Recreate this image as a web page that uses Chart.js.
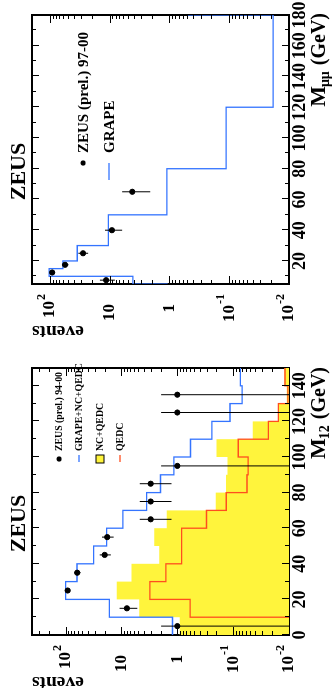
<!DOCTYPE html>
<html>
<head>
<meta charset="utf-8">
<script src="https://cdn.jsdelivr.net/npm/chart.js@4.4.1/dist/chart.umd.min.js"></script>
<style>
  html, body { margin: 0; padding: 0; background: #fff; overflow: hidden; }
  /* the figure is drawn upright, then turned a quarter turn like the original scan */
  #page { position: absolute; left: 0; top: 0; width: 697px; height: 332px; display: flex;
          transform-origin: 0 0; transform: translate(0, 697px) rotate(-90deg); background: #fff; }
  canvas { display: block; }
</style>
</head>
<body>
<div id="page">
  <canvas id="left" width="348" height="332"></canvas>
  <canvas id="right" width="349" height="332"></canvas>
</div>
<script>
// ---- left panel : M_12, ZEUS 94-00 ----
const m12Edges   = [0, 10, 20, 30, 40, 50, 60, 70, 80, 90, 100, 110, 120, 130, 140, 150];
const m12Total   = [1.22, 16.5, 100, 62.5, 31.5, 18.4, 9.4, 3.55, 2.0, 1.15, 0.58, 0.24, 0.114, 0.069, 0.074];
const m12NcQedc  = [0.9, 4.8, 12.2, 6.6, 2.1, 2.6, 1.55, 0.205, 0.134, 0.126, 0.199, 0.0447, 0.0157, 0.011, 0.012];
const m12Qedc    = [0.001, 0.59, 3.1, 1.6, 0.84, 0.84, 0.30, 0.133, 0.0565, 0.054, 0.081, 0.0235, 0.0155, 0.0105, 0.0118];
const m12DataM   = [5, 15, 25, 35, 45, 55, 65, 75, 85, 95, 125, 135];
const m12DataN   = [1, 8, 92, 62, 20, 18, 3, 3, 3, 1, 1, 1];
const m12DataHi  = [1.95, 10.8, 101, 70, 24.5, 22.3, 4.7, 4.7, 4.7, 1.95, 1.95, 1.95];
const m12DataLo  = [0, 5.2, 83, 54, 15.5, 13.8, 1.27, 1.27, 1.27, 0, 0, 0];

// ---- right panel : M_mumu, ZEUS 97-00 ----
const mmEdges    = [0, 5, 10, 15, 20, 30, 50, 80, 120, 180, 200];
const mmGrape    = [1.1, 4.1, 103, 61, 35, 10.5, 1.11, 0.113, 0.0185, 0.5];
const mmDataM    = [7.5, 12.5, 17.5, 25, 40, 65];
const mmDataN    = [11.5, 92, 56, 28, 9.2, 4.2];
const mmDataHi   = [14.6, 101, 63, 33.5, 12, 6.2];
const mmDataLo   = [8.2, 83, 49, 23, 6.2, 2.1];

const SERIF = '"Liberation Serif", "Times New Roman", Times, serif';
const BLUE = '#3474ff';
const RED = '#ff4e1e';
const YELLOW = '#fff43c';

function font(px) { return 'bold ' + px + 'px ' + SERIF; }

// histogram as stepped line : one point per left edge + closing point
function stepData(edges, vals) {
  const pts = vals.map((v, i) => ({ x: edges[i], y: v }));
  pts.push({ x: edges[edges.length - 1], y: vals[vals.length - 1] });
  return pts;
}
function points(xs, ys) { return xs.map((x, i) => ({ x: x, y: ys[i] })); }

// frame, inside ticks, error bars and all the ROOT style text
const zeusPlugin = {
  id: 'zeus',
  beforeDatasetsDraw(chart) {
    const { ctx, chartArea: a } = chart;
    ctx.save();
    ctx.strokeStyle = '#000';
    ctx.lineWidth = 2;
    ctx.strokeRect(a.left, a.top, a.right - a.left, a.bottom - a.top);
    ctx.restore();
  },
  afterDatasetsDraw(chart, args, o) {
    const { ctx, chartArea: a } = chart;
    const x = chart.scales.x, y = chart.scales.y;
    ctx.save();
    ctx.strokeStyle = '#000';
    ctx.lineWidth = 1;
    ctx.beginPath();
    for (let m = Math.ceil(x.min / 10) * 10; m <= x.max; m += 10) {
      const px = Math.round(x.getPixelForValue(m)) + 0.5;
      const len = m % 20 === 0 ? 7 : 4;
      ctx.moveTo(px, a.bottom); ctx.lineTo(px, a.bottom - len);
      ctx.moveTo(px, a.top); ctx.lineTo(px, a.top + len);
    }
    for (let d = -2; d <= 2; d++) {
      for (let k = 1; k <= 9; k++) {
        const v = k * Math.pow(10, d);
        if (v < y.min * 0.999 || v > y.max * 1.001) continue;
        const py = Math.round(y.getPixelForValue(v)) + 0.5;
        const len = k === 1 ? 8 : 4;
        ctx.moveTo(a.left, py); ctx.lineTo(a.left + len, py);
        ctx.moveTo(a.right, py); ctx.lineTo(a.right - len, py);
      }
    }
    ctx.stroke();

    // error bars
    ctx.beginPath();
    ctx.rect(a.left, a.top, a.right - a.left, a.bottom - a.top);
    ctx.clip();
    ctx.beginPath();
    o.errX.forEach((m, i) => {
      const px = x.getPixelForValue(m);
      ctx.moveTo(px, y.getPixelForValue(o.errHi[i]));
      ctx.lineTo(px, o.errLo[i] > 0 ? y.getPixelForValue(o.errLo[i]) : a.bottom);
    });
    ctx.stroke();
    ctx.restore();
  },
  afterDraw(chart, args, o) {
    const { ctx, chartArea: a } = chart;
    const x = chart.scales.x, y = chart.scales.y;
    ctx.save();
    ctx.fillStyle = '#000';

    // M tick labels
    ctx.font = font(18);
    ctx.textAlign = 'center';
    ctx.textBaseline = 'top';
    for (let m = o.labelStart; m <= x.max; m += 20) {
      ctx.fillText(String(m), x.getPixelForValue(m), a.bottom + 2);
    }

    // events tick labels, 10 with exponent
    for (let d = -2; d <= 2; d++) {
      const v = Math.pow(10, d);
      if (v < y.min * 0.999 || v > y.max * 1.001) continue;
      const py = y.getPixelForValue(v);
      ctx.textBaseline = 'middle';
      if (d === 0 || d === 1) {
        ctx.font = font(17);
        ctx.textAlign = 'right';
        ctx.fillText(d === 0 ? '1' : '10', a.left - 20, py);
      } else {
        const exp = String(d);
        ctx.font = font(12);
        const we = ctx.measureText(exp).width;
        const right = a.left - 10;
        ctx.textAlign = 'left';
        ctx.textBaseline = 'alphabetic';
        ctx.fillText(exp, right - we, py - 5);
        ctx.font = font(17);
        ctx.textAlign = 'right';
        ctx.textBaseline = 'middle';
        ctx.fillText('10', right - we - 1, py);
      }
    }

    // ZEUS
    ctx.font = font(22);
    ctx.textAlign = 'center';
    ctx.textBaseline = 'alphabetic';
    ctx.fillText('ZEUS', o.titleX, 25);

    // axis title  M_sub (GeV)
    ctx.textAlign = 'left';
    ctx.font = font(20);
    const wGev = ctx.measureText('(GeV)').width;
    ctx.font = font(14);
    const wSub = ctx.measureText(o.sub).width;
    ctx.font = font(22);
    const wM = ctx.measureText('M').width;
    const gevX = o.titleRight - wGev;
    const subX = gevX - 6 - wSub;
    ctx.fillText('M', subX - wM + 1, 325);
    ctx.font = font(14);
    ctx.fillText(o.sub, subX, 329);
    ctx.font = font(20);
    ctx.fillText('(GeV)', gevX, 325);

    // events
    ctx.save();
    ctx.translate(o.eventsX, a.top);
    ctx.rotate(-Math.PI / 2);
    ctx.font = font(19.5);
    ctx.textAlign = 'right';
    ctx.textBaseline = 'alphabetic';
    ctx.fillText('events', 0, 0);
    ctx.restore();

    // legend
    o.legend.forEach(e => {
      if (e.kind === 'dot') {
        ctx.beginPath();
        ctx.arc(e.sx, e.sy, 2.6, 0, Math.PI * 2);
        ctx.fill();
      } else if (e.kind === 'line') {
        ctx.strokeStyle = e.color;
        ctx.lineWidth = 1.3;
        ctx.beginPath();
        ctx.moveTo(e.sx - e.len, e.sy); ctx.lineTo(e.sx, e.sy);
        ctx.stroke();
      } else {
        ctx.fillStyle = e.color;
        ctx.fillRect(e.sx - 4, e.sy - 4, 8, 8);
        ctx.strokeStyle = '#000';
        ctx.lineWidth = 1;
        ctx.strokeRect(e.sx - 4, e.sy - 4, 8, 8);
        ctx.fillStyle = '#000';
      }
      ctx.font = font(o.legendSize);
      ctx.textAlign = 'left';
      ctx.textBaseline = 'alphabetic';
      ctx.fillText(e.text, o.legendText, e.sy + o.legendSize * 0.33);
    });
    ctx.restore();
  }
};

function makeChart(id, datasets, xMin, xMax, yMax, padding, zeus) {
  return new Chart(document.getElementById(id), {
    type: 'line',
    data: { datasets: datasets },
    options: {
      responsive: false,
      animation: false,
      events: [],
      layout: { padding: padding },
      plugins: { legend: { display: false }, tooltip: { enabled: false }, zeus: zeus },
      scales: {
        x: { type: 'linear', min: xMin, max: xMax, display: false },
        y: { type: 'logarithmic', min: 0.01, max: yMax, display: false }
      }
    },
    plugins: [zeusPlugin]
  });
}

const dots = (xs, ys) => ({
  data: points(xs, ys), showLine: false, pointRadius: 2.6,
  pointBackgroundColor: '#000', pointBorderColor: '#000', borderColor: '#000', order: 0
});
const hist = (edges, vals, color, order) => ({
  data: stepData(edges, vals), stepped: true, borderColor: color, borderWidth: 1.3,
  pointRadius: 0, fill: false, order: order
});

makeChart('left', [
  dots(m12DataM, m12DataN),
  hist(m12Edges, m12Total, BLUE, 1),
  hist(m12Edges, m12Qedc, RED, 2),
  { data: stepData(m12Edges, m12NcQedc), stepped: true, borderWidth: 0, borderColor: 'rgba(0,0,0,0)',
    backgroundColor: YELLOW, fill: 'start', pointRadius: 0, order: 3 }
], 0, 150, 400, { left: 62, right: 19, top: 32, bottom: 43 }, {
  errX: m12DataM, errHi: m12DataHi, errLo: m12DataLo,
  labelStart: 0, titleX: 173.5, titleRight: 330, sub: '12', eventsX: 20,
  legendSize: 9.8, legendText: 246,
  legend: [
    { kind: 'dot', sx: 238, sy: 59, text: 'ZEUS (prel.) 94-00' },
    { kind: 'line', color: BLUE, sx: 242, len: 7, sy: 79, text: 'GRAPE+NC+QEDC' },
    { kind: 'box', color: YELLOW, sx: 238, sy: 100, text: 'NC+QEDC' },
    { kind: 'line', color: RED, sx: 242, len: 7, sy: 120, text: 'QEDC' }
  ]
});

makeChart('right', [
  dots(mmDataM, mmDataN),
  hist(mmEdges, mmGrape, BLUE, 1)
], 5, 180, 200, { left: 65, right: 15, top: 32, bottom: 43 }, {
  errX: mmDataM, errHi: mmDataHi, errLo: mmDataLo,
  labelStart: 20, titleX: 177.5, titleRight: 336, sub: 'μμ', eventsX: 23,
  legendSize: 15, legendText: 196,
  legend: [
    { kind: 'dot', sx: 186, sy: 83, text: 'ZEUS (prel.) 97-00' },
    { kind: 'line', color: BLUE, sx: 186, len: 17, sy: 109, text: 'GRAPE' }
  ]
});
</script>
</body>
</html>
